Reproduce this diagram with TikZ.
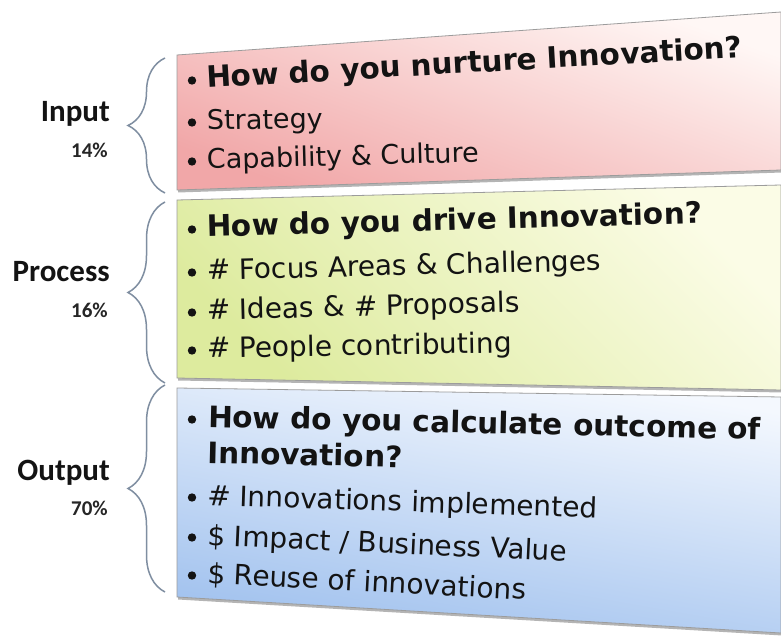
\documentclass[tikz,border=0pt]{standalone}
\usepackage{fontspec}
\setmainfont{DejaVu Sans}
\newfontfamily\stagefont{Carlito}
\usepackage{tikz}
\usetikzlibrary{decorations.pathreplacing,shadows}
\definecolor{inkdark}{HTML}{131313}
\definecolor{inkgray}{HTML}{262626}
\definecolor{boxgray}{HTML}{9C9C9C}
\definecolor{bracegray}{HTML}{7F8EA1}
\definecolor{inputtop}{HTML}{FFF7F5}
\definecolor{inputbot}{HTML}{F1A7A8}
\definecolor{processtop}{HTML}{FBFCE6}
\definecolor{processbot}{HTML}{DDEB9E}
\definecolor{outputtop}{HTML}{F4F8FE}
\definecolor{outputbot}{HTML}{A0C1EE}
\tikzset{
  panel/.style={draw=boxgray,line width=.8pt,
    drop shadow={shadow xshift=1pt,shadow yshift=-2.5pt,opacity=.45,fill=black!65}},
  qtitle/.style={font=\bfseries\fontsize{29.5}{36}\selectfont,text=inkdark,
    anchor=base west,inner sep=0pt,align=left},
  qitem/.style={font=\fontsize{28}{34}\selectfont,text=inkdark,anchor=base west,inner sep=0pt},
  qitemsm/.style={qitem,font=\fontsize{27}{33}\selectfont},
  stagename/.style={font=\stagefont\bfseries\fontsize{31}{34}\selectfont,text=inkdark,
    anchor=base east,inner sep=0pt},
  stageshare/.style={font=\stagefont\bfseries\fontsize{21}{24}\selectfont,text=inkgray,
    anchor=base east,inner sep=0pt},
  stagebrace/.style={decorate,decoration={brace,amplitude=37pt},draw=bracegray,line width=1.5pt}
}

\begin{document}
\begin{tikzpicture}[x=1pt,y=1pt]
  \fill[white] (0,0) rectangle (781,640);
  \useasboundingbox (0,0) rectangle (781,640);

  % the three slanted panels
  \shade[panel,top color=inputtop,bottom color=inputbot,shading angle=-20]
    (177,585) -- (781,628) -- (781,470) -- (177,450) -- cycle;
  \shade[panel,top color=processtop,bottom color=processbot,shading angle=-45]
    (177,440) -- (781,455) -- (781,250) -- (177,262) -- cycle;
  \shade[panel,top color=outputtop,bottom color=outputbot,shading angle=-10]
    (177,252) -- (781,243) -- (781,7) -- (177,43) -- cycle;

  % input panel
  \node[qtitle,rotate=3.3] (q1) at (207,552) {How do you nurture Innovation?};
  \node[qitemsm,rotate=1] (s1a) at (207,510) {Strategy};
  \node[qitemsm,rotate=1.5] (s1b) at (207,471) {Capability \& Culture};

  % process panel
  \node[qtitle,rotate=1.6] (q2) at (207,403) {How do you drive Innovation?};
  \node[qitem,rotate=1.4] (s2a) at (207,360) {\# Focus Areas \& Challenges};
  \node[qitem,rotate=1.5] (s2b) at (207,320) {\# Ideas \& \# Proposals};
  \node[qitem,rotate=1] (s2c) at (207,282) {\# People contributing};

  % output panel (base sits on the second line)
  \node[qtitle,rotate=-1.3] (q3) at (207,177) {How do you calculate outcome of\\Innovation?};
  \node[qitem,rotate=-1.9] (s3a) at (207,135) {\# Innovations implemented};
  \node[qitem,rotate=-2.6] (s3b) at (207,95) {\$ Impact / Business Value};
  \node[qitem,rotate=-3] (s3c) at (207,57) {\$ Reuse of innovations};

  \foreach \n in {q1,s1a,s1b,q2,s2a,s2b,s2c,s3a,s3b,s3c}
    \fill[inkdark] ([shift={(-15,7.5)}]\n.base west) circle (4.2pt);
  \fill[inkdark] ([shift={(-15,43.5)}]q3.base west) circle (4.2pt);

  % stage labels and braces
  \node[stagename] (inname) at (110,518) {Input};
  \node[stageshare] (inshare) at (108,482) {14\%};
  \node[stagename] (procname) at (110,358) {Process};
  \node[stageshare] (procshare) at (108,322) {16\%};
  \node[stagename] (outname) at (110,160) {Output};
  \node[stageshare] (outshare) at (108,125) {70\%};

  \draw[stagebrace] (165,447) -- (165,582);
  \draw[stagebrace] (165,257) -- (165,438);
  \draw[stagebrace] (165,48) -- (165,255);
\end{tikzpicture}
\end{document}
